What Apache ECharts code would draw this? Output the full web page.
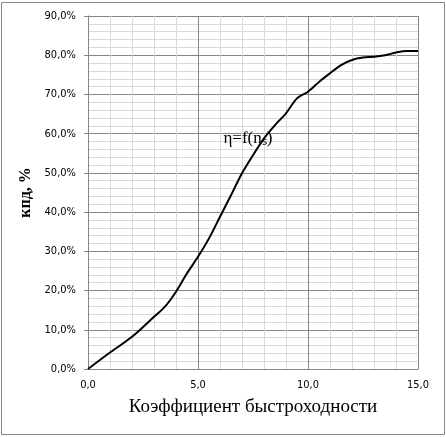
<!DOCTYPE html>
<html>
<head>
<meta charset="utf-8">
<script src="https://cdn.jsdelivr.net/npm/echarts@6/dist/echarts.min.js"></script>
<style>
  html, body { margin: 0; padding: 0; background: #fff; }
  #chart { width: 446px; height: 437px; }
</style>
</head>
<body>
<div id="chart"></div>
<script>
// коэффициент быстроходности
const nsValues = [0, 1, 2, 3, 3.5, 4, 4.5, 5, 5.5, 6, 6.5, 7, 7.5, 8, 8.5, 9, 9.5, 10, 10.5, 11, 11.5, 12, 12.5, 13, 13.5, 14, 14.5, 15];
// КПД, %
const effValues = [0, 4.2, 8.2, 13.3, 15.9, 19.7, 24.4, 28.6, 33.3, 38.8, 44.3, 49.9, 54.5, 58.8, 62.2, 65.2, 69.0, 70.7, 73.2, 75.4, 77.5, 78.8, 79.4, 79.6, 80.0, 80.7, 81.1, 81.1];
const curveLabel = { text: 'η=f(nₛ)', x: 7.27, y: 58.8 };

const fmt = (v, d) => v.toFixed(d).replace('.', ',');
const tickFont = 'DejaVu Sans Condensed, DejaVu Sans';

const chart = echarts.init(document.getElementById('chart'));
const option = {
  animation: false,
  graphic: [{
    type: 'rect',
    shape: { x: 1.5, y: 2.5, width: 443, height: 432 },
    style: { fill: 'none', stroke: '#868686', lineWidth: 1 }
  }],
  grid: { left: 88, right: 28, top: 16, bottom: 68 },
  xAxis: {
    type: 'value',
    min: 0,
    max: 15,
    interval: 5,
    name: 'Коэффициент быстроходности',
    nameLocation: 'middle',
    nameGap: 29,
    nameTextStyle: { fontFamily: 'Liberation Serif', fontSize: 19, color: '#000' },
    axisLine: { show: true, lineStyle: { color: '#868686' } },
    axisTick: { show: false },
    axisLabel: {
      formatter: v => fmt(v, 1),
      fontFamily: tickFont,
      fontSize: 11,
      color: '#000',
      margin: 11
    },
    splitLine: { show: true, lineStyle: { color: '#868686', width: 1 } },
    minorTick: { show: false, splitNumber: 5 },
    minorSplitLine: { show: true, lineStyle: { color: '#d9d9d9', width: 1 } }
  },
  yAxis: {
    type: 'value',
    min: 0,
    max: 90,
    interval: 10,
    name: 'кпд, %',
    nameLocation: 'middle',
    nameGap: 50,
    nameTextStyle: { fontFamily: 'Liberation Serif', fontSize: 16, fontWeight: 'bold', color: '#000' },
    axisLine: { show: true, lineStyle: { color: '#868686' } },
    axisTick: { show: true, length: 4, lineStyle: { color: '#868686' } },
    axisLabel: {
      formatter: v => fmt(v, 1) + '%',
      fontFamily: tickFont,
      fontSize: 11,
      color: '#000',
      margin: 12
    },
    splitLine: { show: true, lineStyle: { color: '#868686', width: 1 } },
    minorTick: { show: false, splitNumber: 5 },
    minorSplitLine: { show: true, lineStyle: { color: '#d9d9d9', width: 1 } }
  },
  series: [{
    type: 'line',
    data: nsValues.map((x, i) => [x, effValues[i]]),
    smooth: 0.3,
    showSymbol: false,
    lineStyle: { color: '#000', width: 2 },
    markPoint: {
      symbolSize: 0,
      data: [{ coord: [curveLabel.x, curveLabel.y] }],
      label: {
        show: true,
        formatter: curveLabel.text,
        position: 'inside',
        fontFamily: 'Liberation Serif',
        fontSize: 17,
        color: '#000'
      }
    }
  }]
};
chart.setOption(option);
</script>
</body>
</html>
